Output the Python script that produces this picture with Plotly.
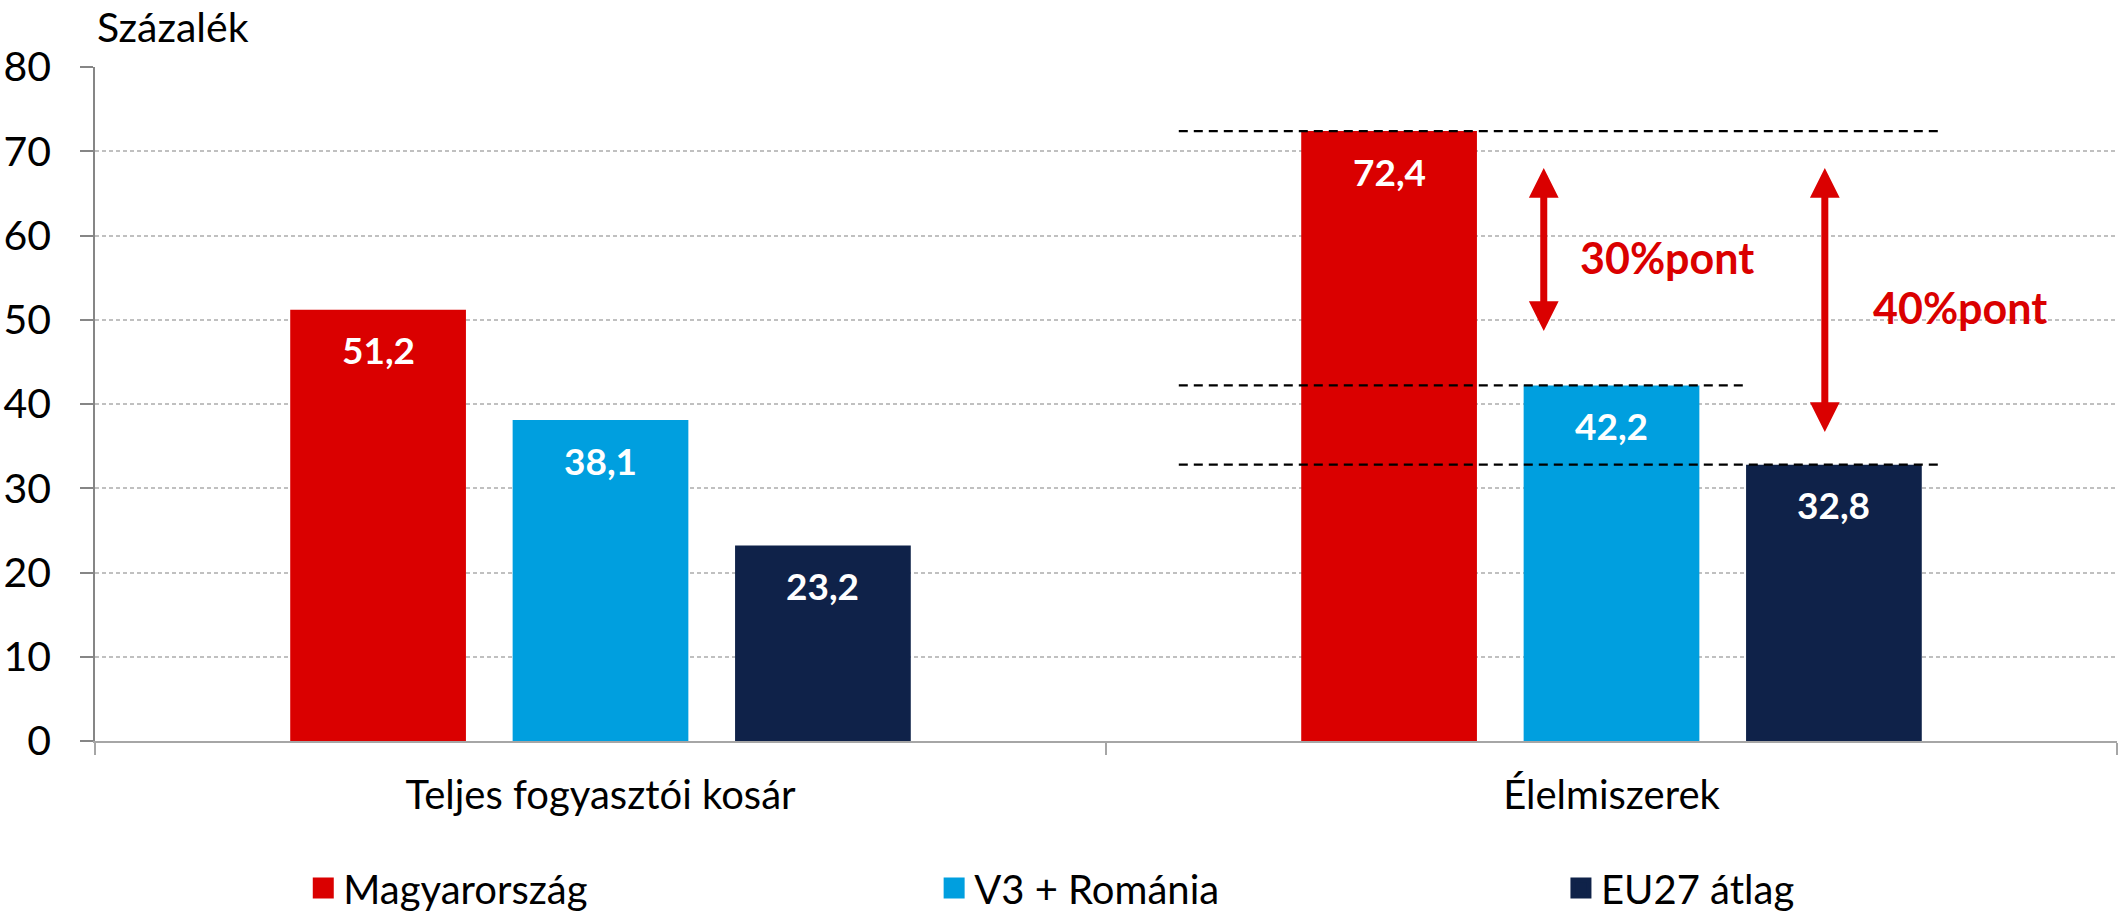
import plotly.graph_objects as go

# ---- data ----
categories = ["Teljes fogyasztói kosár", "Élelmiszerek"]
series_names = ["Magyarország", "V3 + Románia", "EU27 átlag"]
hu_values = [51.2, 72.4]
v3_values = [38.1, 42.2]
eu_values = [23.2, 32.8]
y_tick_values = [0, 10, 20, 30, 40, 50, 60, 70, 80]
gap_labels = ["30%pont", "40%pont"]

# ---- style / layout params ----
colors = ["#DA0000", "#009FDF", "#0F2249"]
FONT = "Lato"
BARGAP = 0.34
BARGROUPGAP = 0.21
SLOT = (1 - BARGAP) / 3

# guide-line extents (category-index units) and arrow geometry
guide_x0 = 0.572
guide_x1_long = 1.323
guide_x1_short = 1.135
arrow_x = [0.933, 1.211]
arrow_top = [68.0, 68.0]
arrow_bottom = [48.5, 36.5]
gap_label_x = [1.055, 1.345]
gap_label_y = [57.4, 51.5]
legend_x = [0.103, 0.415, 0.725]
legend_ids = ["legend", "legend2", "legend3"]

series_values = [hu_values, v3_values, eu_values]

fig = go.Figure()
for name, vals, col, lg in zip(series_names, series_values, colors, legend_ids):
    fig.add_trace(go.Bar(
        x=categories, y=vals, name=name, legendgroup=name, showlegend=False,
        marker=dict(color=col, line=dict(width=0)),
        hoverinfo="skip",
    ))
    # legend entry (square swatch)
    fig.add_trace(go.Scatter(
        x=[None], y=[None], mode="markers", name=name, legendgroup=name, legend=lg,
        marker=dict(symbol="square", size=16, color=col, line=dict(color=col, width=5)),
        hoverinfo="skip",
    ))

# data labels inside bars
for si, vals in enumerate(series_values):
    for ci, v in enumerate(vals):
        fig.add_annotation(
            x=ci + (si - 1) * SLOT, y=v, xref="x", yref="y",
            text=f"{v:.1f}".replace(".", ","), showarrow=False,
            yshift=-40, yanchor="middle",
            font=dict(family=FONT, size=37, color="white", weight="bold"),
        )

# dashed guide lines at the Élelmiszerek values
guides = [(hu_values[1], guide_x1_long), (v3_values[1], guide_x1_short), (eu_values[1], guide_x1_long)]
for yv, x1 in guides:
    fig.add_shape(type="line", xref="x", yref="y", x0=guide_x0, x1=x1, y0=yv, y1=yv,
                  line=dict(color="black", width=2.2, dash="9px,6px"), layer="above")

# double-headed arrows
for ax_, top, bot in zip(arrow_x, arrow_top, arrow_bottom):
    fig.add_annotation(
        x=ax_, y=top, ax=ax_, ay=bot, xref="x", yref="y", axref="x", ayref="y",
        text="", showarrow=True, arrowside="end+start",
        arrowhead=2, startarrowhead=2, arrowsize=0.85, startarrowsize=0.85,
        arrowwidth=7, arrowcolor="#DA0000", standoff=0, startstandoff=0,
    )

for txt, gx, gy in zip(gap_labels, gap_label_x, gap_label_y):
    fig.add_annotation(
        x=gx, y=gy, xref="x", yref="y", text=txt, showarrow=False,
        font=dict(family=FONT, size=43, color="#DA0000", weight="bold"),
    )

# axis title
fig.add_annotation(
    x=0, y=1.06, xref="paper", yref="paper", text="Százalék", showarrow=False,
    xanchor="left", yanchor="middle", font=dict(family=FONT, size=41, color="black"),
)

legend_style = dict(
    orientation="h", xanchor="left", y=-0.218, yanchor="middle",
    font=dict(family=FONT, size=40, color="black"),
    bgcolor="rgba(0,0,0,0)", itemsizing="trace",
)

fig.update_layout(
    width=2125, height=912,
    margin=dict(l=95, r=8, t=67, b=171, autoexpand=False),
    paper_bgcolor="white", plot_bgcolor="white",
    barmode="group", bargap=BARGAP, bargroupgap=BARGROUPGAP,
    font=dict(family=FONT, size=40, color="black"),
    showlegend=True,
    legend=dict(x=legend_x[0], **legend_style),
    legend2=dict(x=legend_x[1], **legend_style),
    legend3=dict(x=legend_x[2], **legend_style),
    xaxis=dict(
        type="category", showgrid=False, showline=True, linecolor="#A6A6A6", linewidth=2,
        ticks="outside", tickson="boundaries", ticklen=12, tickcolor="#A6A6A6", tickwidth=1.5,
        ticklabelstandoff=18, tickfont=dict(family=FONT, size=40, color="black"),
        fixedrange=True, automargin=False,
    ),
    yaxis=dict(
        range=[0, 80], tickvals=y_tick_values, showgrid=True, gridcolor="#C0C0C0",
        gridwidth=1.5, griddash="4px,3px", showline=True, linecolor="#868686", linewidth=1.5,
        ticks="outside", ticklen=13, tickcolor="#868686", tickwidth=1.5,
        ticklabelstandoff=21, tickfont=dict(family=FONT, size=41, color="black"),
        zeroline=False, fixedrange=True, automargin=False,
    ),
)

fig.write_html(
    "out.html",
    config={"displayModeBar": False},
    post_script="document.body.style.margin='0';document.body.style.overflow='hidden';",
)
